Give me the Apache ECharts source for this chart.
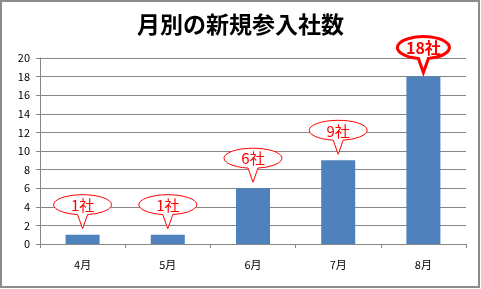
<!DOCTYPE html>
<html>
<head>
<meta charset="utf-8">
<script src="https://cdn.jsdelivr.net/npm/echarts@6/dist/echarts.min.js"></script>
<style>
html,body{margin:0;padding:0;background:#fff;}
#chart{width:481px;height:289px;}
</style>
</head>
<body>
<div id="chart"></div>
<script>
const titleText = '月別の新規参入社数';
const categories = ['4月', '5月', '6月', '7月', '8月'];
const values = [1, 1, 6, 9, 18];
const unit = '社';

const chart = echarts.init(document.getElementById('chart'), null, {renderer: 'canvas'});
const maxVal = Math.max.apply(null, values);
const fontFam = '"Noto Sans CJK JP", "Noto Sans", sans-serif';

function bubble(params, api) {
  const v = api.value(1);
  const p = api.coord([api.value(0), v]);
  const big = v === maxVal;
  const rx = big ? 26 : 29;
  const ry = big ? 11 : 10;
  const tipGap = big ? 4 : 6;
  const tailLen = 14;
  const tipY = p[1] - tipGap;
  const cx = p[0];
  const cy = tipY - tailLen - ry;
  const hw = 5;
  const yb = cy + ry * Math.sqrt(1 - (hw * hw) / (rx * rx));
  const d = 'M' + (cx - hw) + ' ' + yb +
    ' A' + rx + ' ' + ry + ' 0 1 1 ' + (cx + hw) + ' ' + yb +
    ' L' + cx + ' ' + tipY + ' Z';
  return {
    type: 'group',
    children: [
      {
        type: 'path',
        shape: {pathData: d},
        style: {fill: '#fff', stroke: '#FF0000', lineWidth: big ? 3 : 1}
      },
      {
        type: 'text',
        style: {
          text: v + unit,
          x: cx,
          y: cy + 0.5,
          align: 'center',
          verticalAlign: 'middle',
          fill: '#FF0000',
          font: (big ? 'bold 16px ' : '15px ') + fontFam
        }
      }
    ]
  };
}

chart.setOption({
  animation: false,
  backgroundColor: '#fff',
  title: {
    text: titleText,
    left: 'center',
    top: 8,
    textStyle: {fontFamily: fontFam, fontSize: 23, fontWeight: 'bold', color: '#000'}
  },
  graphic: [{
    type: 'rect',
    shape: {x: 1, y: 1, width: 478, height: 286},
    style: {fill: 'none', stroke: '#8c8c8c', lineWidth: 2},
    silent: true,
    z: 100
  }],
  grid: {left: 40, right: 15, top: 58, bottom: 45, containLabel: false},
  xAxis: {
    type: 'category',
    data: categories,
    boundaryGap: true,
    axisLine: {lineStyle: {color: '#868686'}},
    axisTick: {show: true, length: 4, lineStyle: {color: '#868686'}},
    axisLabel: {color: '#000', fontSize: 11, fontFamily: fontFam, margin: 15}
  },
  yAxis: {
    type: 'value',
    min: 0,
    max: 20,
    interval: 2,
    axisLine: {show: true, lineStyle: {color: '#868686'}},
    axisTick: {show: true, length: 4, lineStyle: {color: '#868686'}},
    axisLabel: {color: '#000', fontSize: 11, fontFamily: fontFam, margin: 10},
    splitLine: {lineStyle: {color: '#868686', width: 1}}
  },
  series: [
    {
      type: 'bar',
      data: values,
      barWidth: 34,
      itemStyle: {color: '#4F81BD'}
    },
    {
      type: 'custom',
      coordinateSystem: 'cartesian2d',
      clip: false,
      z: 10,
      data: values.map(function (v, i) { return [i, v]; }),
      renderItem: bubble
    }
  ]
});
</script>
</body>
</html>
